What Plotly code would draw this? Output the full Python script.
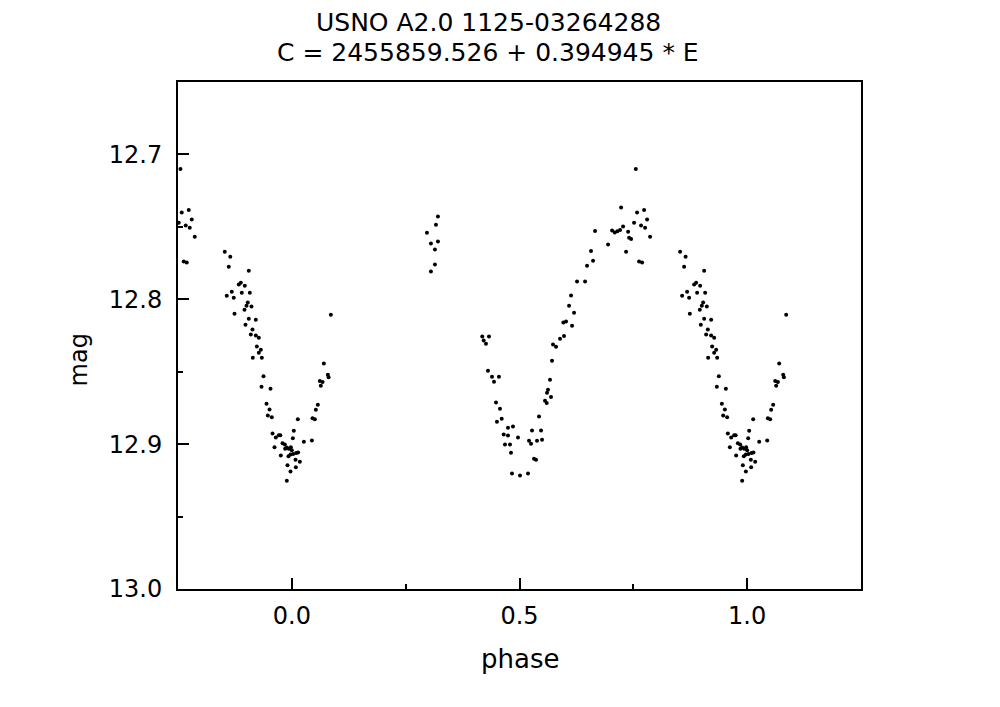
import plotly.graph_objects as go

TITLE_LINE1 = "USNO A2.0 1125-03264288"
TITLE_LINE2 = "C = 2455859.526 + 0.394945 * E"
X_LABEL = "phase"
Y_LABEL = "mag"

X_TICKS = [0.0, 0.5, 1.0]
Y_TICKS = [12.7, 12.8, 12.9, 13.0]
X_RANGE = [-0.25, 1.25]
Y_RANGE = [13.0, 12.65]

# Observed phases (one cycle, -0.2 .. 0.8) and magnitudes
PHASE = [
    -0.1473, -0.1352, -0.1385, -0.0945, -0.1165, -0.1121, -0.1033, -0.1429, -0.1319, -0.1275,
    -0.1099, -0.0923, -0.0967, -0.0996, -0.0886, -0.1040, -0.1259, 0.0857, -0.0945, -0.0791,
    -0.1018, -0.0864, -0.0901, -0.0791, -0.0725, -0.0769, -0.0681, -0.0725, -0.0857, -0.0659,
    0.0703, -0.0622, 0.0791, 0.0807, 0.0615, 0.0675, 0.0637, -0.0666, -0.0468, 0.0571,
    -0.0556, -0.0490, 0.0527, -0.0527, -0.0440, 0.0455, 0.0505, 0.0132, 0.0044, -0.0424,
    -0.0286, -0.0253, -0.0352, 0.0022, 0.0264, 0.0440, -0.0204, -0.0154, -0.0380, -0.0110,
    -0.0066, -0.0022, 0.0000, -0.0147, 0.0138, 0.0095, 0.0029, -0.0029, -0.0242, -0.0073,
    0.0081, 0.0176, -0.0095, 0.0088, -0.0029, -0.0110,
    0.3209, 0.3165, 0.2967, 0.3055, 0.3209, 0.3143, 0.3143, 0.3055,
    0.4182, 0.4330, 0.4213, 0.4264, 0.4308, 0.4396, 0.4549, 0.4440, 0.4484, 0.4571,
    0.4609, 0.4505, 0.4747, 0.4857, 0.4653, 0.4747, 0.4967, 0.4681, 0.4791, 0.4813,
    0.4835, 0.5011, 0.5187, 0.5209, 0.5253, 0.5275, 0.5473, 0.5385, 0.5495, 0.5319,
    0.5363, 0.5429, 0.5560, 0.5598, 0.5692, 0.5604, 0.5626, 0.5670, 0.5714, 0.5736,
    0.5802, 0.5890, 0.5978, 0.5963, 0.6022, 0.6154, 0.6198, 0.6088, 0.6132, 0.6264,
    0.6440, 0.6484, 0.6615, 0.6571, 0.6659, 0.6945, 0.7033, 0.7092, 0.7149, 0.7209,
    0.7231, 0.7275, 0.7341, 0.7385, 0.7407, 0.7451, 0.7516, 0.7554, 0.7582, 0.7670,
    0.7758, 0.7736, 0.7802, 0.7868, 0.7626, 0.7692,
]
MAG = [
    12.7672, 12.7707, 12.7776, 12.7803, 12.7898, 12.7886, 12.7907, 12.7976, 12.7948, 12.7990,
    12.7955, 12.7955, 12.8022, 12.8045, 12.8050, 12.8072, 12.8100, 12.8107, 12.8134, 12.8141,
    12.8176, 12.8208, 12.8243, 12.8250, 12.8266, 12.8326, 12.8348, 12.8369, 12.8403, 12.8403,
    12.8443, 12.8532, 12.8521, 12.8539, 12.8564, 12.8571, 12.8597, 12.8603, 12.8617, 12.8728,
    12.8721, 12.8760, 12.8762, 12.8803, 12.8815, 12.8822, 12.8829, 12.8829, 12.8907, 12.8926,
    12.8939, 12.8939, 12.8955, 12.8960, 12.8983, 12.8974, 12.8994, 12.9003, 12.9022, 12.9024,
    12.9031, 12.9022, 12.9043, 12.9031, 12.9057, 12.9061, 12.9068, 12.9072, 12.9079, 12.9084,
    12.9107, 12.9121, 12.9146, 12.9160, 12.9188, 12.9252,
    12.7429, 12.7486, 12.7541, 12.7615, 12.7601, 12.7657, 12.7760, 12.7808,
    12.8257, 12.8257, 12.8284, 12.8307, 12.8493, 12.8534, 12.8534, 12.8569, 12.8712, 12.8755,
    12.8824, 12.8845, 12.8886, 12.8879, 12.8934, 12.8941, 12.8955, 12.9003, 12.9003, 12.9059,
    12.9203, 12.9217, 12.9203, 12.8976, 12.8997, 12.8905, 12.8905, 12.8976, 12.8969, 12.9100,
    12.9107, 12.8810, 12.8700, 12.8716, 12.8674, 12.8645, 12.8624, 12.8555, 12.8424, 12.8312,
    12.8328, 12.8272, 12.8254, 12.8160, 12.8153, 12.8183, 12.8093, 12.8045, 12.7974, 12.7877,
    12.7877, 12.7769, 12.7734, 12.7666, 12.7528, 12.7622, 12.7526, 12.7539, 12.7530, 12.7521,
    12.7367, 12.7498, 12.7672, 12.7534, 12.7576, 12.7583, 12.7472, 12.7100, 12.7401, 12.7491,
    12.7507, 12.7383, 12.7450, 12.7569, 12.7739, 12.7746,
]

# Phase-folded plot repeats each cycle across the displayed phase window
xs, ys = [], []
for p, m in zip(PHASE, MAG):
    for k in (-1, 0, 1):
        q = p + k
        if X_RANGE[0] <= q <= X_RANGE[1]:
            xs.append(q)
            ys.append(m)

FONT = "DejaVu Sans"

fig = go.Figure(go.Scatter(
    x=xs, y=ys, mode="markers",
    marker=dict(color="black", size=4, symbol="circle", line=dict(width=0)),
    hoverinfo="skip",
))

axis_common = dict(
    showline=True, linecolor="black", linewidth=2, mirror=True,
    showgrid=False, zeroline=False,
    ticks="inside", ticklen=11, tickwidth=2, tickcolor="black",
    tickfont=dict(family=FONT, size=24, color="black"),
    tickformat=".1f",
)

# page body adds an 8px offset; figure sized so the plot lands where the reference has it
fig.update_layout(
    width=992, height=699,
    margin=dict(l=170, r=139, t=74, b=118),
    paper_bgcolor="white", plot_bgcolor="white",
    showlegend=False,
    xaxis=dict(
        range=X_RANGE, tickvals=X_TICKS, ticklabelstandoff=4,
        minor=dict(dtick=0.25, tick0=0, ticks="inside", ticklen=5, tickwidth=2, tickcolor="black"),
        **axis_common,
    ),
    yaxis=dict(
        range=Y_RANGE, tickvals=Y_TICKS, ticklabelstandoff=9,
        minor=dict(dtick=0.05, tick0=12.65, ticks="inside", ticklen=5, tickwidth=2, tickcolor="black"),
        **axis_common,
    ),
    annotations=[
        dict(text=TITLE_LINE1, xref="paper", yref="paper", x=0.4539, y=1.1164,
             xanchor="center", yanchor="middle", showarrow=False, borderpad=0,
             font=dict(family=FONT, size=25, color="black")),
        dict(text=TITLE_LINE2, xref="paper", yref="paper", x=0.4539, y=1.0572,
             xanchor="center", yanchor="middle", showarrow=False, borderpad=0,
             font=dict(family=FONT, size=25, color="black")),
        dict(text=X_LABEL, xref="paper", yref="paper", x=0.5, y=-0.138,
             xanchor="center", yanchor="middle", showarrow=False,
             font=dict(family=FONT, size=26, color="black")),
        dict(text=Y_LABEL, xref="paper", yref="paper", x=-0.1455, y=0.452,
             xanchor="center", yanchor="middle", showarrow=False, textangle=-90,
             font=dict(family=FONT, size=24, color="black")),
    ],
)

fig.write_html("out.html")
